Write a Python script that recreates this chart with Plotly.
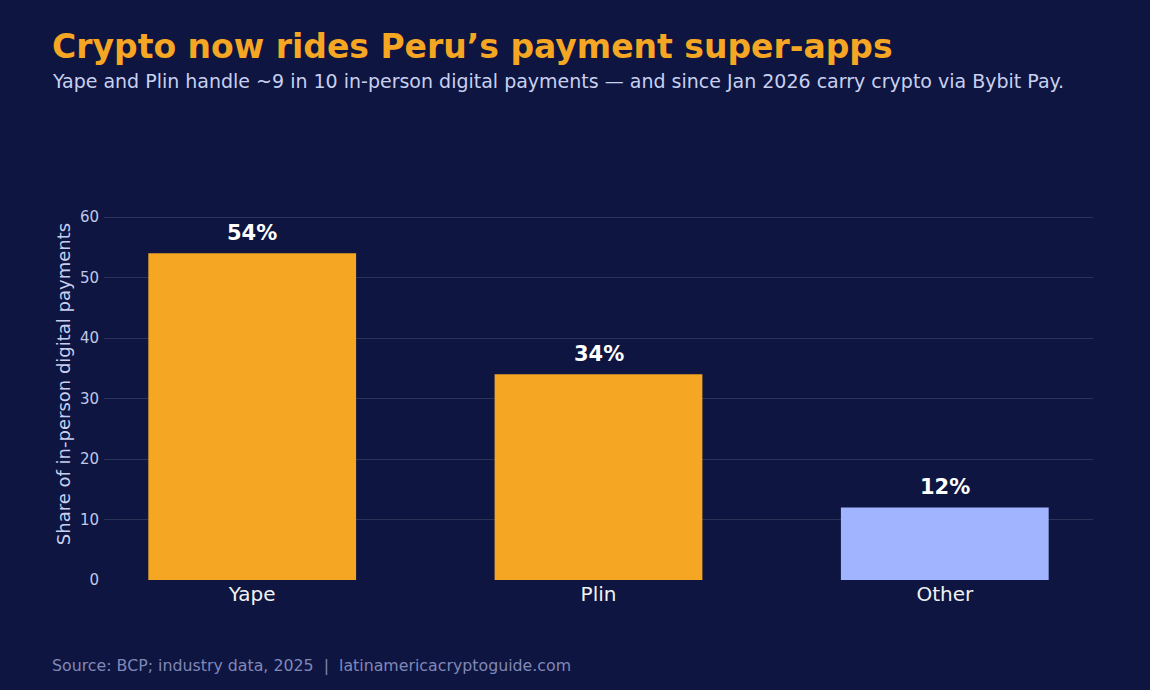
import plotly.graph_objects as go

categories = ["Yape", "Plin", "Other"]
shares = [54, 34, 12]
bar_colors = ["#F5A623", "#F5A623", "#A0B4FF"]
y_ticks = [0, 10, 20, 30, 40, 50, 60]

BG = "#0E1540"
FONT = "DejaVu Sans"

fig = go.Figure()
fig.add_trace(go.Bar(
    x=categories, y=shares,
    marker=dict(color=bar_colors, line=dict(width=0)),
    width=0.6,
    hoverinfo="skip",
))

L, R, T, B = 104, 57, 188, 110
H = 690 - T - B

def py(pix):
    return (690 - B - pix) / H

def px(pix):
    return (pix - L) / (1150 - L - R)

annotations = [
    dict(text=f"<b>{v}%</b>", x=c, y=v, xref="x", yref="y",
         yanchor="bottom", yshift=6, showarrow=False,
         font=dict(family=FONT, size=21, color="#FFFFFF"))
    for c, v in zip(categories, shares)
]
annotations += [
    dict(text="<b>Crypto now rides Peru’s payment super-apps</b>",
         xref="paper", yref="paper", x=px(50), y=py(46),
         xanchor="left", yanchor="middle", showarrow=False,
         font=dict(family=FONT, size=33, color="#F5A623")),
    dict(text="Yape and Plin handle ~9 in 10 in-person digital payments — and since Jan 2026 carry crypto via Bybit Pay.",
         xref="paper", yref="paper", x=px(50), y=py(81),
         xanchor="left", yanchor="middle", showarrow=False,
         font=dict(family=FONT, size=19, color="#C8D0F0")),
    dict(text="Source: BCP; industry data, 2025  |  latinamericacryptoguide.com",
         xref="paper", yref="paper", x=px(50), y=py(665),
         xanchor="left", yanchor="middle", showarrow=False,
         font=dict(family=FONT, size=15.8, color="#8088B8")),
]

fig.update_layout(
    width=1150, height=690,
    margin=dict(l=L, r=R, t=T, b=B),
    paper_bgcolor=BG, plot_bgcolor=BG,
    font=dict(family=FONT, color="#C8D0F0"),
    showlegend=False,
    xaxis=dict(
        range=[-0.428, 2.428],
        showgrid=False, zeroline=False, showline=False,
        tickfont=dict(family=FONT, size=20, color="#F2F2F2"),
        ticks="",
    ),
    yaxis=dict(
        range=[0, 64.8],
        tickvals=y_ticks,
        showgrid=True, gridcolor="rgba(255,255,255,0.12)", gridwidth=1,
        zeroline=False, showline=False,
        tickfont=dict(family=FONT, size=15, color="#C0C8E8"),
        ticklabelstandoff=4,
        title=dict(text="Share of in-person digital payments",
                   font=dict(family=FONT, size=18, color="#C8D0F0"),
                   standoff=4),
    ),
    annotations=annotations,
)

fig.write_html("out.html")
